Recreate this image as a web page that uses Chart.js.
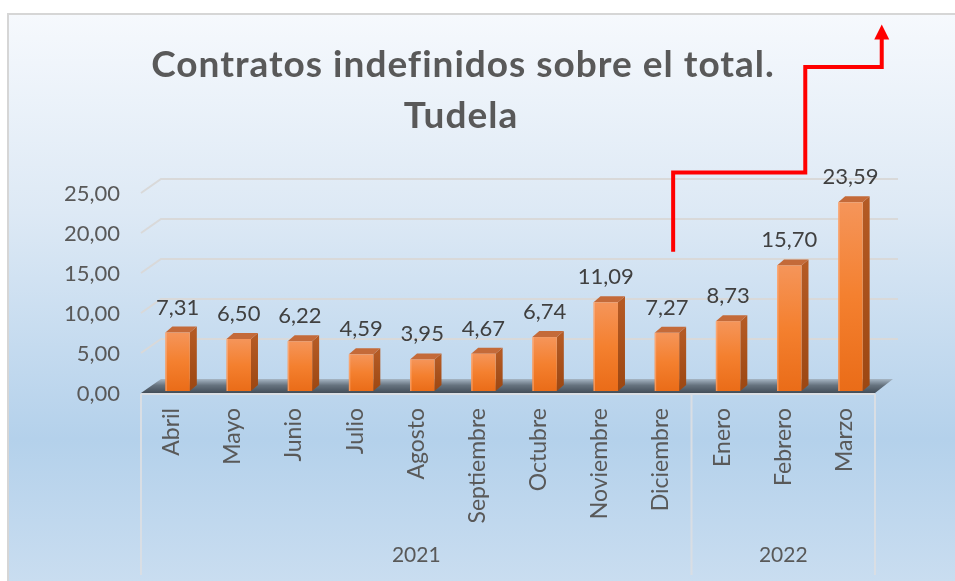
<!DOCTYPE html>
<html>
<head>
<meta charset="utf-8">
<script src="https://cdn.jsdelivr.net/npm/chart.js@4.4.0/dist/chart.umd.min.js"></script>
<style>
  html, body { margin: 0; padding: 0; background: #fff; }
  canvas { display: block; }
</style>
</head>
<body>
<canvas id="grafico" width="955" height="581"></canvas>
<script>
// datos del grafico
const meses = ["Abril", "Mayo", "Junio", "Julio", "Agosto", "Septiembre", "Octubre", "Noviembre", "Diciembre", "Enero", "Febrero", "Marzo"];
const porcentajes = [7.31, 6.50, 6.22, 4.59, 3.95, 4.67, 6.74, 11.09, 7.27, 8.73, 15.70, 23.59];
const anios = ["2021", "2022"];
const mesesPorAnio = [9, 3];
const ticksY = [0, 5, 10, 15, 20, 25];
const titulo = ["Contratos indefinidos sobre el total.", "Tudela"];
// flecha roja: [indice de categoria, valor]
const flecha = [[8.2, 17.4], [8.2, 27.3], [10.36, 27.3], [10.36, 40.5], [11.61, 40.5], [11.61, 45.8]];

const FUENTE = "Lato, 'DejaVu Sans', sans-serif";
const GRIS = "#595959";
const coma = v => v.toFixed(2).replace(".", ",");

// profundidad del efecto 3D
const DX = 7, DY = -6;      // barras
const PX = 20, PY = -12;    // pared y suelo
const DESPL = 6;            // barras un poco hacia dentro

const fondo = {
  id: "fondo",
  beforeDraw(chart) {
    const ctx = chart.ctx;
    ctx.save();
    ctx.fillStyle = "#fff";
    ctx.fillRect(0, 0, chart.width, chart.height);
    const g = ctx.createLinearGradient(0, 14, 0, chart.height);
    g.addColorStop(0, "#f6f9fd");
    g.addColorStop(0.35, "#dde9f5");
    g.addColorStop(0.75, "#b4d1eb");
    g.addColorStop(1, "#c9ddf0");
    ctx.fillStyle = g;
    ctx.fillRect(8, 14, chart.width - 8, chart.height - 14);
    ctx.strokeStyle = "#d6d6d6";
    ctx.lineWidth = 2;
    ctx.beginPath();
    ctx.moveTo(8, chart.height);
    ctx.lineTo(8, 14);
    ctx.lineTo(chart.width, 14);
    ctx.stroke();
    ctx.restore();
  }
};

const pared = {
  id: "pared",
  beforeDatasetsDraw(chart) {
    const ctx = chart.ctx;
    const { left, right } = chart.chartArea;
    const y = chart.scales.y, x = chart.scales.x;
    const base = y.getPixelForValue(0);
    ctx.save();
    // lineas de division en la pared del fondo
    ctx.strokeStyle = "#d9d9d9";
    ctx.lineWidth = 2;
    ticksY.slice(1).forEach(v => {
      const py = y.getPixelForValue(v);
      ctx.beginPath();
      ctx.moveTo(left, py + 2);
      ctx.lineTo(left + PX, py + PY);
      ctx.lineTo(right + PX + 3, py + PY);
      ctx.stroke();
    });
    // suelo
    const gs = ctx.createLinearGradient(0, base + PY, 0, base + 2);
    gs.addColorStop(0, "#a7b6c4");
    gs.addColorStop(0.45, "#66737f");
    gs.addColorStop(1, "#424d58");
    ctx.fillStyle = gs;
    ctx.beginPath();
    ctx.moveTo(left, base + 2);
    ctx.lineTo(left + PX, base + PY);
    ctx.lineTo(right + PX - 2, base + PY);
    ctx.lineTo(right, base + 2);
    ctx.closePath();
    ctx.fill();
    // caja de las etiquetas del eje
    ctx.strokeStyle = "#d9dee4";
    ctx.lineWidth = 2;
    ctx.beginPath();
    ctx.moveTo(left, base + 3);
    ctx.lineTo(right, base + 3);
    let idx = 0;
    const cortes = [x.getPixelForValue(-0.5)];
    mesesPorAnio.forEach(n => { idx += n; cortes.push(x.getPixelForValue(idx - 0.5)); });
    cortes.forEach(px => {
      ctx.moveTo(px, base + 3);
      ctx.lineTo(px, chart.height - 6);
    });
    ctx.stroke();
    ctx.restore();
  }
};

const barras3d = {
  id: "barras3d",
  afterDatasetsDraw(chart) {
    const ctx = chart.ctx;
    const meta = chart.getDatasetMeta(0);
    ctx.save();
    meta.data.forEach((el, i) => {
      const cx = el.x + DESPL, top = el.y, bot = el.base, w = el.width;
      const l = cx - w / 2, r = cx + w / 2;
      // lateral
      const gl = ctx.createLinearGradient(0, top, 0, bot);
      gl.addColorStop(0, "#b45a24");
      gl.addColorStop(1, "#9c4712");
      ctx.fillStyle = gl;
      ctx.beginPath();
      ctx.moveTo(r, top); ctx.lineTo(r + DX, top + DY);
      ctx.lineTo(r + DX, bot + DY); ctx.lineTo(r, bot);
      ctx.closePath(); ctx.fill();
      // tapa
      ctx.fillStyle = "#c46a39";
      ctx.beginPath();
      ctx.moveTo(l, top); ctx.lineTo(l + DX, top + DY);
      ctx.lineTo(r + DX, top + DY); ctx.lineTo(r, top);
      ctx.closePath(); ctx.fill();
      // frente
      const gf = ctx.createLinearGradient(0, top, 0, bot);
      gf.addColorStop(0, "#f5955a");
      gf.addColorStop(0.5, "#f4802f");
      gf.addColorStop(1, "#ea6c18");
      ctx.fillStyle = gf;
      ctx.fillRect(l, top, w, bot - top);
      ctx.fillStyle = "rgba(255,190,150,0.5)";
      ctx.fillRect(l, top, 1.5, bot - top);
      // etiqueta de valor
      ctx.fillStyle = "#404040";
      ctx.font = "22px " + FUENTE;
      ctx.textAlign = "center";
      ctx.textBaseline = "middle";
      ctx.fillText(coma(porcentajes[i]), cx, top - 25);
    });
    ctx.restore();
  },
  afterDraw(chart) {
    const ctx = chart.ctx;
    const x = chart.scales.x, y = chart.scales.y;
    ctx.save();
    // etiquetas de los anios
    ctx.fillStyle = GRIS;
    ctx.font = "21px " + FUENTE;
    ctx.textAlign = "center";
    ctx.textBaseline = "middle";
    let ini = 0;
    anios.forEach((a, k) => {
      const fin = ini + mesesPorAnio[k] - 1;
      const cx = (x.getPixelForValue(ini) + x.getPixelForValue(fin)) / 2;
      ctx.fillText(a, cx, 555);
      ini = fin + 1;
    });
    // titulo
    ctx.fillStyle = GRIS;
    ctx.font = "bold 37px " + FUENTE;
    ctx.letterSpacing = "1px";
    ctx.textBaseline = "alphabetic";
    ctx.fillText(titulo[0], 463, 77);
    ctx.fillText(titulo[1], 461, 128);
    ctx.letterSpacing = "0px";
    // flecha roja
    const pts = flecha.map(p => [x.getPixelForValue(p[0]), y.getPixelForValue(p[1])]);
    const punta = pts[pts.length - 1];
    ctx.strokeStyle = "#ff0000";
    ctx.fillStyle = "#ff0000";
    ctx.lineWidth = 4;
    ctx.lineJoin = "miter";
    ctx.beginPath();
    pts.forEach((p, k) => {
      const py = k === pts.length - 1 ? p[1] + 12 : p[1];
      if (k === 0) ctx.moveTo(p[0], py); else ctx.lineTo(p[0], py);
    });
    ctx.stroke();
    ctx.beginPath();
    ctx.moveTo(punta[0], punta[1]);
    ctx.lineTo(punta[0] + 7.5, punta[1] + 15);
    ctx.lineTo(punta[0] - 7.5, punta[1] + 15);
    ctx.closePath();
    ctx.fill();
    ctx.restore();
  }
};

new Chart(document.getElementById("grafico"), {
  type: "bar",
  data: {
    labels: meses,
    datasets: [{
      data: porcentajes,
      backgroundColor: "rgba(0,0,0,0)",
      borderWidth: 0,
      categoryPercentage: 1,
      barPercentage: 0.4
    }]
  },
  options: {
    responsive: false,
    animation: false,
    devicePixelRatio: 1,
    layout: { padding: { left: 0, right: 80, top: 191, bottom: 0 } },
    plugins: {
      legend: { display: false },
      title: { display: false },
      tooltip: { enabled: false }
    },
    scales: {
      x: {
        grid: { display: false, drawTicks: false },
        border: { display: false },
        ticks: {
          autoSkip: false,
          minRotation: 90,
          maxRotation: 90,
          padding: 17,
          color: GRIS,
          font: { family: FUENTE, size: 23 }
        },
        afterFit(s) { s.height = 190; }
      },
      y: {
        min: 0,
        max: 25,
        grid: { display: false, drawTicks: false },
        border: { display: false },
        afterBuildTicks(s) { s.ticks = ticksY.map(v => ({ value: v })); },
        ticks: {
          padding: 21,
          labelOffset: 3,
          color: GRIS,
          font: { family: FUENTE, size: 22 },
          callback: v => coma(v)
        },
        afterFit(s) { s.width = 141; }
      }
    }
  },
  plugins: [fondo, pared, barras3d]
});
</script>
</body>
</html>
